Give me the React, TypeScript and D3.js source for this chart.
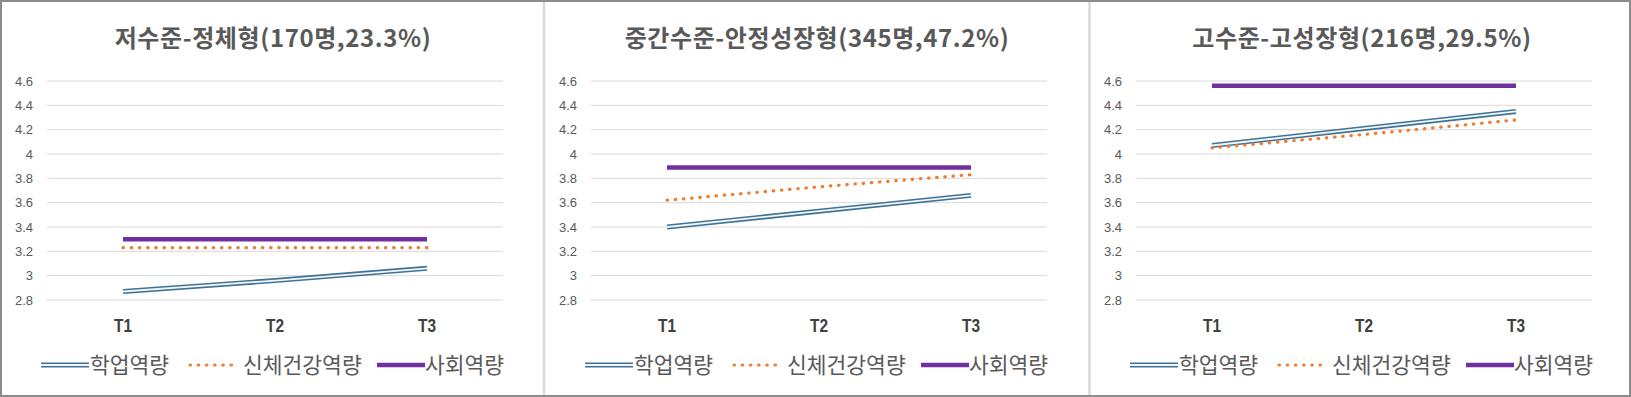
import { useEffect, useRef } from "react";
import * as d3 from "d3";

// data
const times = ["T1", "T2", "T3"];
const yTicks = [2.8, 3, 3.2, 3.4, 3.6, 3.8, 4, 4.2, 4.4, 4.6];

const titles = [
  "저수준-정체형(170명,23.3%)",
  "중간수준-안정성장형(345명,47.2%)",
  "고수준-고성장형(216명,29.5%)",
];

const academic = [
  [2.87, 2.96, 3.06],
  [3.4, 3.53, 3.66],
  [4.07, 4.21, 4.35],
];
const physical = [
  [3.23, 3.23, 3.23],
  [3.62, 3.73, 3.83],
  [4.05, 4.16, 4.28],
];
const social = [
  [3.3, 3.3, 3.3],
  [3.89, 3.89, 3.89],
  [4.56, 4.56, 4.56],
];

const seriesNames = ["학업역량", "신체건강역량", "사회역량"];

const W = 1631;
const H = 397;
const panelLeft = [1, 545, 1090];
const textColor = "#595959";
const krFont = "'Noto Sans CJK KR', 'Noto Sans', sans-serif";
const numFont = "'Liberation Sans', Arial, sans-serif";

export default function App() {
  const svgRef = useRef<SVGSVGElement>(null);

  useEffect(() => {
    document.body.style.margin = "0";
    if (!svgRef.current) return;
    const svg = d3.select(svgRef.current);
    svg.selectAll("*").remove();

    svg.append("rect").attr("width", W).attr("height", H).attr("fill", "#fff");

    const x = d3.scalePoint<string>().domain(times).range([46, 502]).padding(0.5);
    const y = d3.scaleLinear().domain([2.8, 4.6]).range([300, 81]);
    const line = d3
      .line<number>()
      .x((_, i) => x(times[i])!)
      .y((d) => y(d));

    panelLeft.forEach((px, p) => {
      const g = svg.append("g").attr("transform", `translate(${px},0)`);

      g.append("text")
        .attr("x", 272)
        .attr("y", 47)
        .attr("text-anchor", "middle")
        .attr("font-family", krFont)
        .attr("font-weight", 700)
        .attr("font-size", 24)
        .attr("letter-spacing", 0.6)
        .attr("fill", textColor)
        .text(titles[p]);

      yTicks.forEach((t) => {
        g.append("line")
          .attr("x1", 46)
          .attr("x2", 502)
          .attr("y1", y(t))
          .attr("y2", y(t))
          .attr("stroke", "#d9d9d9")
          .attr("stroke-width", 1);
        g.append("text")
          .attr("x", 32)
          .attr("y", y(t))
          .attr("dy", "0.35em")
          .attr("text-anchor", "end")
          .attr("font-family", numFont)
          .attr("font-size", 13)
          .attr("fill", textColor)
          .text(String(t));
      });

      times.forEach((t) => {
        g.append("text")
          .attr("x", x(t)!)
          .attr("y", 332)
          .attr("text-anchor", "middle")
          .attr("font-family", numFont)
          .attr("font-weight", 700)
          .attr("font-size", 18)
          .attr("textLength", 18)
          .attr("lengthAdjust", "spacingAndGlyphs")
          .attr("fill", "#404040")
          .text(t);
      });

      // 학업역량: double line
      g.append("path")
        .attr("d", line(academic[p]))
        .attr("fill", "none")
        .attr("stroke", "#3f7396")
        .attr("stroke-width", 5);
      g.append("path")
        .attr("d", line(academic[p]))
        .attr("fill", "none")
        .attr("stroke", "#f2f6f9")
        .attr("stroke-width", 1.8);

      g.append("path")
        .attr("d", line(physical[p]))
        .attr("fill", "none")
        .attr("stroke", "#ed7d31")
        .attr("stroke-width", 3.2)
        .attr("stroke-linecap", "round")
        .attr("stroke-dasharray", "0.5,7.7");

      g.append("path")
        .attr("d", line(social[p]))
        .attr("fill", "none")
        .attr("stroke", "#7030a0")
        .attr("stroke-width", 4.5);

      // legend
      const ly = 365;
      const lg = g.append("g");
      lg.append("line").attr("x1", 40).attr("x2", 88).attr("y1", ly).attr("y2", ly)
        .attr("stroke", "#3f7396").attr("stroke-width", 5);
      lg.append("line").attr("x1", 40).attr("x2", 88).attr("y1", ly).attr("y2", ly)
        .attr("stroke", "#f2f6f9").attr("stroke-width", 1.8);
      lg.append("line").attr("x1", 189).attr("x2", 234).attr("y1", ly).attr("y2", ly)
        .attr("stroke", "#ed7d31").attr("stroke-width", 3.2)
        .attr("stroke-linecap", "round").attr("stroke-dasharray", "0.5,7.7");
      lg.append("line").attr("x1", 376).attr("x2", 424).attr("y1", ly).attr("y2", ly)
        .attr("stroke", "#7030a0").attr("stroke-width", 4.5);
      [89, 242, 424].forEach((lx, i) => {
        lg.append("text")
          .attr("x", lx)
          .attr("y", 373)
          .attr("font-family", krFont)
          .attr("font-size", 21.5)
          .attr("fill", textColor)
          .text(seriesNames[i]);
      });
    });

    // frame and dividers
    [544, 1089.5].forEach((dx) => {
      svg.append("line").attr("x1", dx).attr("x2", dx).attr("y1", 2).attr("y2", H - 2)
        .attr("stroke", "#d9d9d9").attr("stroke-width", 2.5);
    });
    svg.append("rect")
      .attr("x", 1).attr("y", 1).attr("width", W - 2).attr("height", H - 2)
      .attr("fill", "none").attr("stroke", "#8c8c8c").attr("stroke-width", 2);
  }, []);

  return <svg ref={svgRef} width={W} height={H} style={{ display: "block" }} />;
}
